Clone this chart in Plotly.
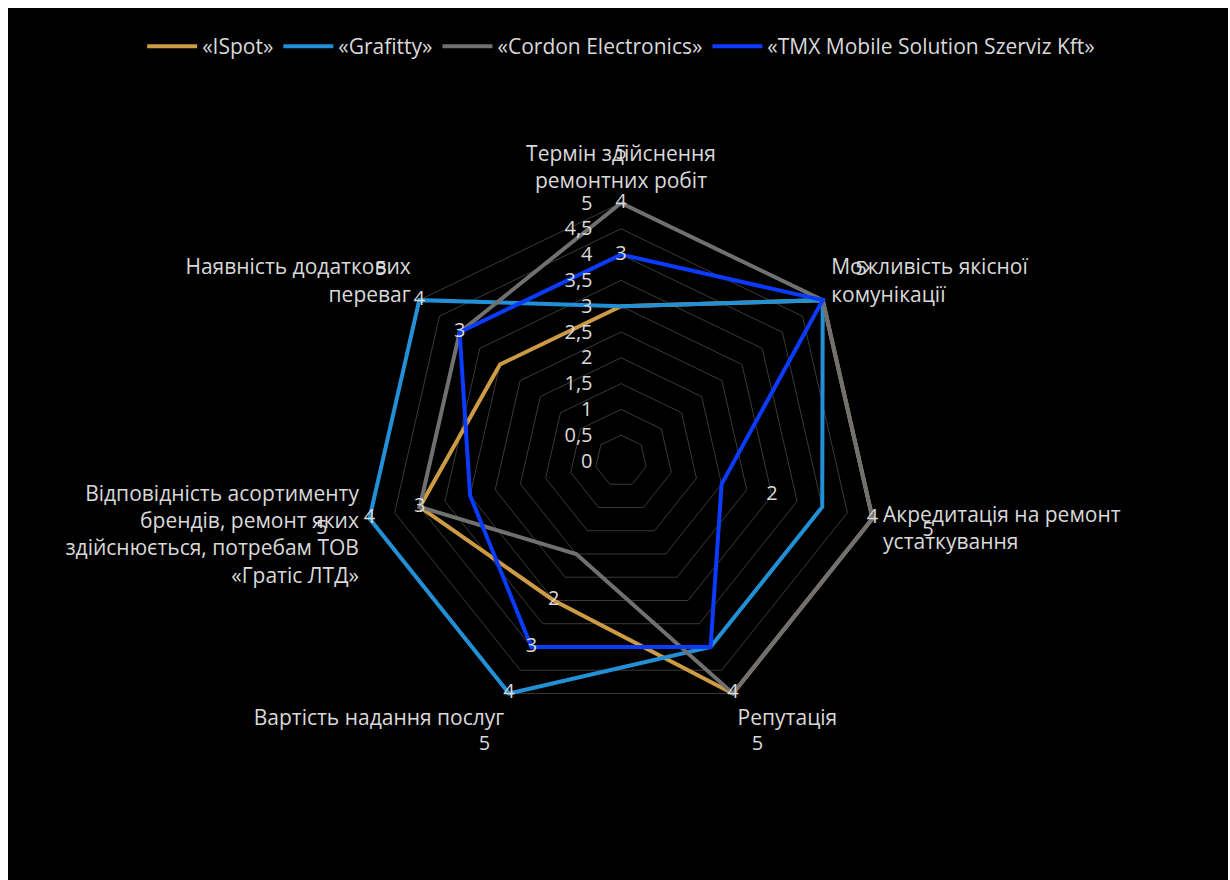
import plotly.graph_objects as go

categories = [
    "Термін здійснення<br>ремонтних робіт",
    "Можливість якісної<br>комунікації",
    "Акредитація на ремонт<br>устаткування",
    "Репутація",
    "Вартість надання послуг",
    "Відповідність асортименту<br>брендів, ремонт яких<br>здійснюється, потребам ТОВ<br>«Гратіс ЛТД»",
    "Наявність додаткових<br>переваг",
]

series_names = ["«ISpot»", "«Grafitty»", "«Cordon Electronics»", "«TMX Mobile Solution Szerviz Kft»"]
ispot = [3, 5, 5, 5, 3, 4, 3]
grafitty = [3, 5, 4, 4, 5, 5, 5]
cordon = [5, 5, 5, 5, 2, 4, 4]
tmx = [4, 5, 2, 4, 4, 3, 4]
series_colors = ["#CD9B45", "#2290D6", "#707070", "#0B3BFF"]

# visible data labels printed on the chart (category index, radial position, text)
label_theta_idx = [0, 0, 2, 2, 3, 4, 4, 4, 5, 5, 6, 6]
label_r = [5, 4, 5, 3, 5, 5, 4, 3, 5, 4, 5, 4]
label_text = ["4", "3", "4", "2", "4", "4", "3", "2", "4", "3", "4", "3"]

# outer "5" labels (placed beyond the outer ring)
outer_theta_idx = [0, 1, 2, 3, 4, 5, 6]
outer_r = [5.95, 5.95, 6.1, 6.1, 6.1, 5.95, 5.95]
outer_text = ["5", "5", "5", "5", "5", "5", "5"]

radial_ticks = [0, 0.5, 1, 1.5, 2, 2.5, 3, 3.5, 4, 4.5, 5]
radial_ticktext = ["0", "0,5", "1", "1,5", "2", "2,5", "3", "3,5", "4", "4,5", "5"]

FONT = "Open Sans"
TXT = "#D9D9D9"

# layout geometry (pixels)
W, H = 1230, 880
CX, CY = 621, 461
R1_MAX = 5.2
PX_PER_UNIT = 51.6
R2_MAX = 6.5


def domain(rmax):
    rad = rmax * PX_PER_UNIT
    return dict(x=[(CX - rad) / W, (CX + rad) / W], y=[1 - (CY + rad) / H, 1 - (CY - rad) / H])


fig = go.Figure()
for name, vals, col in zip(series_names, [ispot, grafitty, cordon, tmx], series_colors):
    fig.add_trace(go.Scatterpolar(
        r=vals + vals[:1], theta=categories + categories[:1],
        mode="lines", name=name,
        line=dict(color=col, width=4),
    ))

fig.add_trace(go.Scatterpolar(
    r=label_r, theta=[categories[i] for i in label_theta_idx],
    mode="text", text=label_text, showlegend=False,
    textfont=dict(family=FONT, size=20, color=TXT),
))

fig.add_trace(go.Scatterpolar(
    r=outer_r, theta=[categories[i] for i in outer_theta_idx],
    mode="text", text=outer_text, showlegend=False, subplot="polar2",
    textfont=dict(family=FONT, size=20, color=TXT),
))

fig.update_layout(
    width=W, height=H,
    margin=dict(l=0, r=0, t=0, b=0),
    paper_bgcolor="white",
    font=dict(family=FONT, color=TXT),
    shapes=[dict(type="rect", xref="paper", yref="paper", x0=0.0065, x1=0.9984, y0=0, y1=0.991,
                 fillcolor="black", line=dict(width=0), layer="below")],
    legend=dict(orientation="h", x=0.505, xanchor="center", y=0.947, yanchor="middle",
                font=dict(family=FONT, size=21, color=TXT), bgcolor="rgba(0,0,0,0)",
                itemwidth=50, tracegroupgap=0),
    polar=dict(
        domain=domain(R1_MAX),
        bgcolor="rgba(0,0,0,0)",
        gridshape="linear",
        radialaxis=dict(range=[0, R1_MAX], tickvals=radial_ticks, ticktext=radial_ticktext,
                        angle=90, tickangle=90, side="counterclockwise", showline=False,
                        ticks="outside", ticklen=21, tickcolor="rgba(0,0,0,0)",
                        gridcolor="#3A3A3A", gridwidth=1,
                        tickfont=dict(family=FONT, size=20, color=TXT)),
        angularaxis=dict(rotation=90, direction="clockwise", showgrid=False, showline=False,
                         categoryorder="array", categoryarray=categories,
                         ticks="", tickfont=dict(family=FONT, size=21, color=TXT)),
    ),
    polar2=dict(
        domain=domain(R2_MAX),
        bgcolor="rgba(0,0,0,0)",
        gridshape="linear",
        radialaxis=dict(range=[0, R2_MAX], visible=False, showgrid=False),
        angularaxis=dict(rotation=90, direction="clockwise", showgrid=False, showline=False,
                         showticklabels=False, ticks="", visible=False,
                         categoryorder="array", categoryarray=categories),
    ),
)

fig.write_html("out.html")
